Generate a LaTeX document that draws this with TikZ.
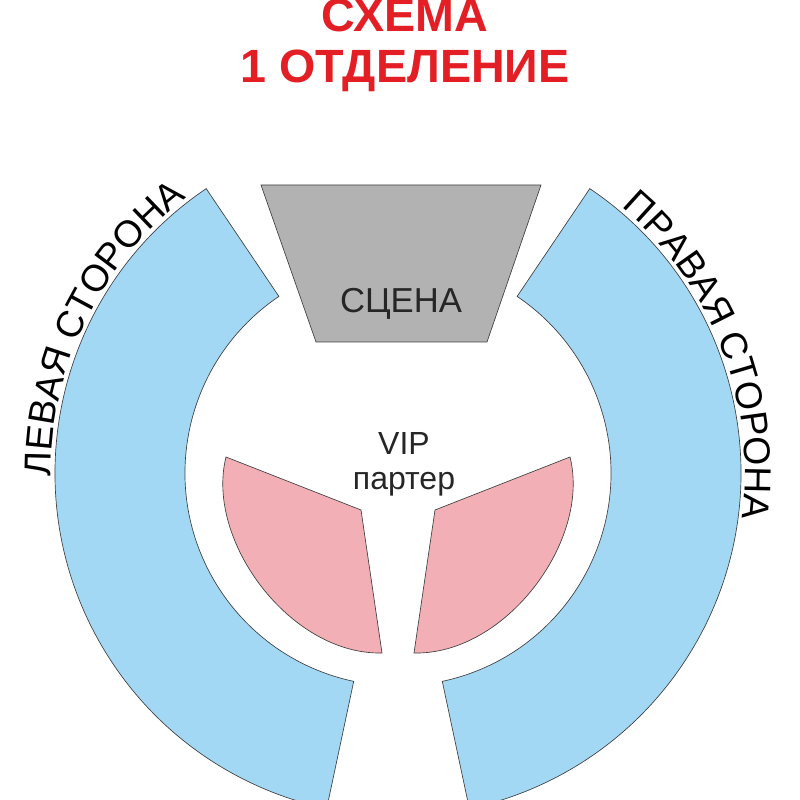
\documentclass[tikz,border=0pt]{standalone}
\usepackage{fontspec}
\setmainfont{Liberation Sans}
\usepackage{xcolor}
\usetikzlibrary{calc,
	positioning,
	decorations.text}
\definecolor{sidesblue}{HTML}{A3D8F4}
\definecolor{vippink}{HTML}{F2B0B6}
\definecolor{scenegray}{HTML}{B2B2B2}
\definecolor{titlered}{HTML}{E31E24}
\newcommand{\sidefont}{\fontsize{28}{30}\selectfont}

\begin{document}
\begin{tikzpicture}[x=0.75pt, y=0.75pt,
                        zone/.style={draw=black!75, line width=0.5pt},
                        label/.style={inner sep=0pt, anchor=base, text=black!85}]
                        \useasboundingbox (0,0) rectangle (800,800);
                        \coordinate (hall) at (398,327);
                        % title
                        \node (title1) [label, text=titlered, font=\bfseries\fontsize{35}{37}\selectfont] at (405,768) {СХЕМА};
                        \node (title2) [label, text=titlered, font=\bfseries\fontsize{35}{37}\selectfont] at (405,717) {1 ОТДЕЛЕНИЕ};
                        % scene
                        \draw[zone, fill=scenegray] (261,615) -- (541,615) -- (487,458) -- (316,458) -- cycle;
                        \node (scene) [label, font=\fontsize{26}{28}\selectfont] at (401,487) {СЦЕНА};
                        % sides
                        \draw[zone, fill=sidesblue] ($(hall)+(124:343)$) arc[start angle=124, end angle=258, radius=343]
                            -- ($(hall)+(258:213)$) arc[start angle=258, end angle=124, radius=213] -- cycle;
                        \draw[zone, fill=sidesblue] ($(hall)+(56:343)$) arc[start angle=56, end angle=-78, radius=343]
                            -- ($(hall)+(-78:213)$) arc[start angle=-78, end angle=56, radius=213] -- cycle;
                        \path[decorate, decoration={text along path, text={|\sidefont|ЛЕВАЯ СТОРОНА}}]
                            ($(hall)+(180.5:347)$) arc[start angle=180.5, end angle=115, radius=347];
                        \path[decorate, decoration={text along path, text={|\sidefont|ПРАВАЯ СТОРОНА}}]
                            ($(hall)+(50:347)$) arc[start angle=50, end angle=-15, radius=347];
                        % vip
                        \draw[zone, fill=vippink] (226,343) -- (361,290) -- (382,147) .. controls (290,145) and (205,260) .. cycle;
                        \draw[zone, fill=vippink] (570,343) -- (435,290) -- (414,147) .. controls (506,145) and (591,260) .. cycle;
                        \node (vip) [label, font=\fontsize{24}{26}\selectfont] at (404,345) {VIP};
                        \node (parter) [label, font=\fontsize{24}{26}\selectfont] at (404,310) {партер};
                    \end{tikzpicture}
\end{document}
